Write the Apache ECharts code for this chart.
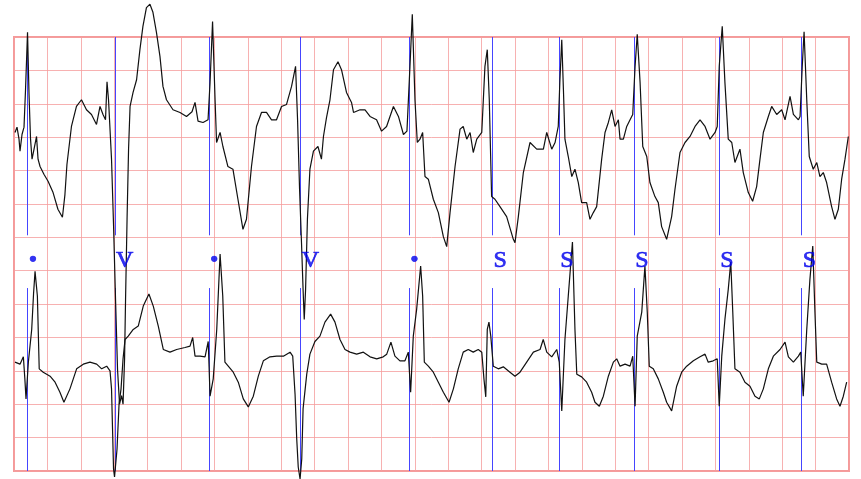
<!DOCTYPE html>
<html>
<head>
<meta charset="utf-8">
<script src="https://cdn.jsdelivr.net/npm/echarts/dist/echarts.min.js"></script>
<style>
    html, body { margin: 0; padding: 0; background: #fff; }
    #chart { width: 861px; height: 479px; }
</style>
</head>
<body>
<div id="chart"></div>
<script>
// two leads, [time (s), amplitude (mV)]
const upperLead = [
    [0.006,0.07],[0.018,0.15],[0.030,-0.03],[0.036,-0.21],[0.048,0.04],[0.060,0.15],[0.069,0.71],[0.081,1.57],[0.090,0.64],[0.099,-0.03],
    [0.108,-0.33],[0.120,-0.18],[0.135,0.01],[0.144,-0.33],[0.156,-0.44],[0.180,-0.56],[0.204,-0.66],[0.234,-0.83],[0.263,-1.08],[0.290,-1.20],
    [0.305,-0.86],[0.317,-0.41],[0.344,0.16],[0.374,0.46],[0.404,0.56],[0.434,0.41],[0.464,0.34],[0.494,0.19],[0.515,0.46],[0.533,0.34],
    [0.548,0.26],[0.557,0.83],[0.566,0.56],[0.584,-0.33],[0.596,-1.31],[0.608,-2.43],[0.620,-3.48],[0.632,-4.00],[0.644,-3.87],[0.653,-4.00],
    [0.662,-3.33],[0.668,-2.43],[0.677,-1.23],[0.686,-0.18],[0.695,0.46],[0.713,0.67],[0.734,0.86],[0.754,1.31],[0.772,1.66],[0.793,1.94],
    [0.814,1.99],[0.832,1.87],[0.853,1.57],[0.874,1.21],[0.892,0.76],[0.913,0.56],[0.952,0.41],[0.994,0.37],[1.033,0.31],[1.066,0.38],
    [1.084,0.52],[1.102,0.24],[1.132,0.22],[1.162,0.26],[1.174,0.82],[1.189,1.73],[1.204,0.56],[1.213,-0.08],[1.234,0.07],[1.251,-0.14],
    [1.281,-0.44],[1.311,-0.48],[1.341,-0.93],[1.371,-1.38],[1.392,-1.23],[1.422,-0.44],[1.452,0.16],[1.482,0.37],[1.512,0.37],[1.542,0.26],
    [1.572,0.26],[1.602,0.46],[1.632,0.49],[1.662,0.76],[1.686,1.06],[1.698,0.26],[1.710,-0.78],[1.722,-1.61],[1.731,-2.28],[1.738,-2.73],
    [1.746,-2.28],[1.757,-1.23],[1.772,-0.48],[1.793,-0.21],[1.820,-0.14],[1.841,-0.33],[1.853,0.01],[1.871,0.29],[1.892,0.56],[1.913,1.01],
    [1.940,1.13],[1.961,1.01],[1.991,0.67],[2.021,0.52],[2.033,0.37],[2.072,0.41],[2.102,0.41],[2.132,0.31],[2.171,0.26],[2.201,0.09],
    [2.231,0.16],[2.272,0.46],[2.302,0.31],[2.332,0.04],[2.353,0.09],[2.371,1.06],[2.385,1.84],[2.401,0.56],[2.415,-0.08],[2.431,-0.03],
    [2.447,0.07],[2.461,-0.59],[2.481,-0.63],[2.511,-0.93],[2.541,-1.13],[2.571,-1.49],[2.591,-1.64],[2.611,-1.13],[2.641,-0.44],[2.671,0.12],
    [2.690,0.16],[2.711,-0.03],[2.731,0.07],[2.750,-0.23],[2.771,-0.03],[2.801,0.07],[2.820,1.06],[2.834,1.31],[2.846,0.56],[2.860,-0.89],
    [2.880,-0.93],[2.910,-1.04],[2.950,-1.19],[2.990,-1.53],[3.000,-1.58],[3.020,-1.19],[3.050,-0.53],[3.090,-0.08],[3.130,-0.18],[3.170,-0.18],
    [3.190,0.07],[3.220,-0.18],[3.240,-0.08],[3.259,0.16],[3.269,0.86],[3.280,1.46],[3.290,0.71],[3.299,-0.03],[3.319,-0.29],[3.340,-0.59],
    [3.359,-0.48],[3.379,-0.68],[3.399,-0.98],[3.429,-0.98],[3.449,-1.23],[3.469,-1.13],[3.489,-1.04],[3.519,-0.33],[3.539,0.07],[3.559,0.22],
    [3.579,0.41],[3.599,0.16],[3.619,0.26],[3.629,-0.03],[3.649,-0.03],[3.669,0.16],[3.689,0.26],[3.705,0.34],[3.719,1.06],[3.732,1.54],
    [3.749,0.82],[3.765,-0.14],[3.789,-0.29],[3.808,-0.68],[3.838,-0.89],[3.858,-0.98],[3.878,-1.34],[3.908,-1.53],[3.938,-1.19],[3.958,-0.78],
    [3.988,-0.23],[4.018,-0.08],[4.048,0.01],[4.078,0.16],[4.108,0.26],[4.138,0.16],[4.168,-0.03],[4.198,0.07],[4.211,0.16],[4.223,1.06],
    [4.241,1.66],[4.257,0.82],[4.277,-0.03],[4.298,-0.08],[4.317,-0.38],[4.347,-0.18],[4.367,-0.53],[4.397,-0.83],[4.423,-0.96],[4.447,-0.74],
    [4.467,-0.33],[4.487,0.07],[4.517,0.31],[4.537,0.46],[4.567,0.34],[4.597,0.41],[4.617,0.26],[4.647,0.61],[4.667,0.34],[4.697,0.26],
    [4.707,0.31],[4.720,1.06],[4.731,1.58],[4.747,0.56],[4.762,-0.29],[4.786,-0.48],[4.807,-0.38],[4.826,-0.59],[4.846,-0.53],[4.866,-0.68],
    [4.896,-1.04],[4.916,-1.23],[4.936,-1.08],[4.956,-0.63],[4.976,-0.33],[4.996,0.01]
];

const lowerLead = [
    [0.006,0.13],[0.036,0.10],[0.056,0.21],[0.065,-0.12],[0.072,-0.42],[0.086,0.13],[0.106,0.62],[0.117,1.15],[0.126,1.49],[0.140,1.12],
    [0.151,0.03],[0.175,-0.02],[0.216,-0.08],[0.246,-0.17],[0.275,-0.32],[0.299,-0.47],[0.335,-0.27],[0.375,0.03],[0.415,0.10],[0.455,0.13],
    [0.495,0.10],[0.525,0.03],[0.555,0.07],[0.575,0.00],[0.584,-0.27],[0.590,-0.87],[0.596,-1.47],[0.602,-1.59],[0.611,-1.59],[0.617,-1.17],
    [0.629,-0.50],[0.641,-0.27],[0.653,0.18],[0.665,0.47],[0.684,0.52],[0.714,0.62],[0.744,0.67],[0.774,0.97],[0.808,1.15],[0.834,0.97],
    [0.864,0.67],[0.894,0.32],[0.934,0.28],[0.974,0.32],[1.024,0.35],[1.054,0.37],[1.070,0.50],[1.084,0.22],[1.114,0.22],[1.144,0.21],
    [1.163,0.44],[1.174,-0.38],[1.193,-0.12],[1.214,0.62],[1.234,1.75],[1.250,1.12],[1.263,0.13],[1.283,0.07],[1.313,-0.02],[1.343,-0.17],
    [1.373,-0.42],[1.403,-0.54],[1.433,-0.38],[1.463,-0.08],[1.493,0.15],[1.533,0.21],[1.573,0.22],[1.613,0.22],[1.653,0.28],[1.669,0.22],
    [1.683,-0.35],[1.693,-1.02],[1.702,-1.44],[1.713,-1.62],[1.723,-1.32],[1.731,-0.57],[1.753,-0.05],[1.772,0.25],[1.802,0.44],[1.832,0.52],
    [1.862,0.73],[1.896,0.85],[1.922,0.73],[1.952,0.47],[1.982,0.32],[2.012,0.28],[2.052,0.25],[2.092,0.28],[2.132,0.21],[2.172,0.18],
    [2.211,0.21],[2.232,0.25],[2.257,0.43],[2.281,0.22],[2.311,0.15],[2.341,0.15],[2.361,0.28],[2.375,-0.32],[2.391,0.52],[2.411,0.92],
    [2.435,1.57],[2.447,1.12],[2.457,0.13],[2.481,0.07],[2.511,-0.02],[2.541,-0.17],[2.571,-0.32],[2.605,-0.47],[2.631,-0.27],[2.660,0.03],
    [2.690,0.28],[2.720,0.32],[2.750,0.28],[2.780,0.32],[2.801,0.28],[2.814,-0.12],[2.825,-0.39],[2.834,0.62],[2.844,0.73],[2.855,0.52],
    [2.870,0.07],[2.900,0.03],[2.930,0.06],[2.970,-0.02],[3.000,-0.08],[3.030,-0.02],[3.070,0.13],[3.110,0.28],[3.150,0.32],[3.169,0.47],
    [3.190,0.28],[3.220,0.21],[3.250,0.32],[3.265,0.13],[3.280,-0.60],[3.299,0.47],[3.319,1.12],[3.344,1.93],[3.359,0.62],[3.370,-0.05],
    [3.399,-0.09],[3.429,-0.17],[3.459,-0.32],[3.479,-0.47],[3.505,-0.53],[3.529,-0.38],[3.559,-0.08],[3.589,0.13],[3.609,0.18],[3.629,0.07],
    [3.659,0.10],[3.689,0.07],[3.705,0.22],[3.719,-0.53],[3.732,0.52],[3.759,0.88],[3.778,1.57],[3.792,0.88],[3.804,0.07],[3.828,0.03],
    [3.858,-0.12],[3.888,-0.32],[3.908,-0.47],[3.938,-0.60],[3.968,-0.23],[3.998,-0.02],[4.028,0.07],[4.068,0.15],[4.108,0.21],[4.138,0.25],
    [4.157,0.13],[4.187,0.15],[4.211,0.18],[4.223,-0.53],[4.238,0.22],[4.257,0.77],[4.277,1.22],[4.292,1.63],[4.304,0.88],[4.317,0.03],
    [4.347,-0.02],[4.377,-0.17],[4.407,-0.23],[4.437,-0.38],[4.463,-0.42],[4.487,-0.27],[4.517,0.03],[4.547,0.22],[4.587,0.32],[4.617,0.43],
    [4.637,0.21],[4.667,0.13],[4.697,0.22],[4.711,0.28],[4.726,-0.38],[4.747,0.62],[4.766,1.37],[4.783,1.87],[4.796,0.88],[4.807,0.13],
    [4.837,0.10],[4.866,0.10],[4.896,-0.17],[4.926,-0.42],[4.946,-0.53],[4.966,-0.38],[4.986,-0.17]
];

// beat annotations
const beatTimes = [0.082, 0.605, 1.168, 1.717, 2.367, 2.866, 3.265, 3.714, 4.223, 4.717];
const beatLabels = ['•', 'V', '•', 'V', '•', 'S', 'S', 'S', 'S', 'S'];

// extent of the blue beat ticks in each strip (mV, own axis)
const upperTickSpan = [1.5, -1.47];
const lowerTickSpan = [1.24, -1.5];
const labelLevel = 1.65;

const gridColor = '#f59e9e';
const markColor = '#4545ff';
const labelColor = '#0000ee';

function beatMarks(span) {
    return beatTimes.map(t => [{ coord: [t, span[0]] }, { coord: [t, span[1]] }]);
}

const chart = echarts.init(document.getElementById('chart'), null, { renderer: 'canvas' });

const option = {
    animation: false,
    backgroundColor: '#fff',
    grid: {
        left: 14,
        top: 37,
        width: 835,
        height: 434,
        show: true,
        borderColor: '#f49a9a',
        borderWidth: 2,
        backgroundColor: 'transparent'
    },
    xAxis: {
        type: 'value',
        min: 0,
        max: 5,
        interval: 0.2,
        axisLine: { show: false },
        axisTick: { show: false },
        axisLabel: { show: false },
        splitLine: { show: true, lineStyle: { color: gridColor, width: 1, opacity: 0.8 } }
    },
    yAxis: [
        {
            type: 'value',
            min: -5,
            max: 1.5,
            interval: 0.5,
            axisLine: { show: false },
            axisTick: { show: false },
            axisLabel: { show: false },
            splitLine: { show: true, lineStyle: { color: gridColor, width: 1, opacity: 0.8 } }
        },
        {
            type: 'value',
            min: -1.5,
            max: 5,
            interval: 0.5,
            axisLine: { show: false },
            axisTick: { show: false },
            axisLabel: { show: false },
            splitLine: { show: false }
        }
    ],
    series: [
        {
            type: 'line',
            yAxisIndex: 0,
            data: upperLead,
            showSymbol: false,
            clip: false,
            z: 3,
            lineStyle: { color: '#111', width: 1.2 },
            markLine: {
                silent: true,
                symbol: ['none', 'none'],
                label: { show: false },
                lineStyle: { color: markColor, width: 1, type: 'solid' },
                data: beatMarks(upperTickSpan),
                z: 2
            }
        },
        {
            type: 'line',
            yAxisIndex: 1,
            data: lowerLead,
            showSymbol: false,
            clip: false,
            z: 3,
            lineStyle: { color: '#111', width: 1.2 },
            markLine: {
                silent: true,
                symbol: ['none', 'none'],
                label: { show: false },
                lineStyle: { color: markColor, width: 1, type: 'solid' },
                data: beatMarks(lowerTickSpan),
                z: 2
            }
        },
        {
            // beat type letters
            type: 'scatter',
            yAxisIndex: 1,
            symbolSize: 0,
            silent: true,
            z: 4,
            data: beatTimes.map(t => [t, labelLevel]),
            label: {
                show: true,
                position: 'right',
                distance: 1,
                formatter: p => beatLabels[p.dataIndex],
                fontFamily: 'Liberation Serif',
                fontSize: 24,
                color: labelColor,
                textBorderColor: labelColor,
                textBorderWidth: 0.7
            }
        }
    ]
};

chart.setOption(option);
</script>
</body>
</html>
